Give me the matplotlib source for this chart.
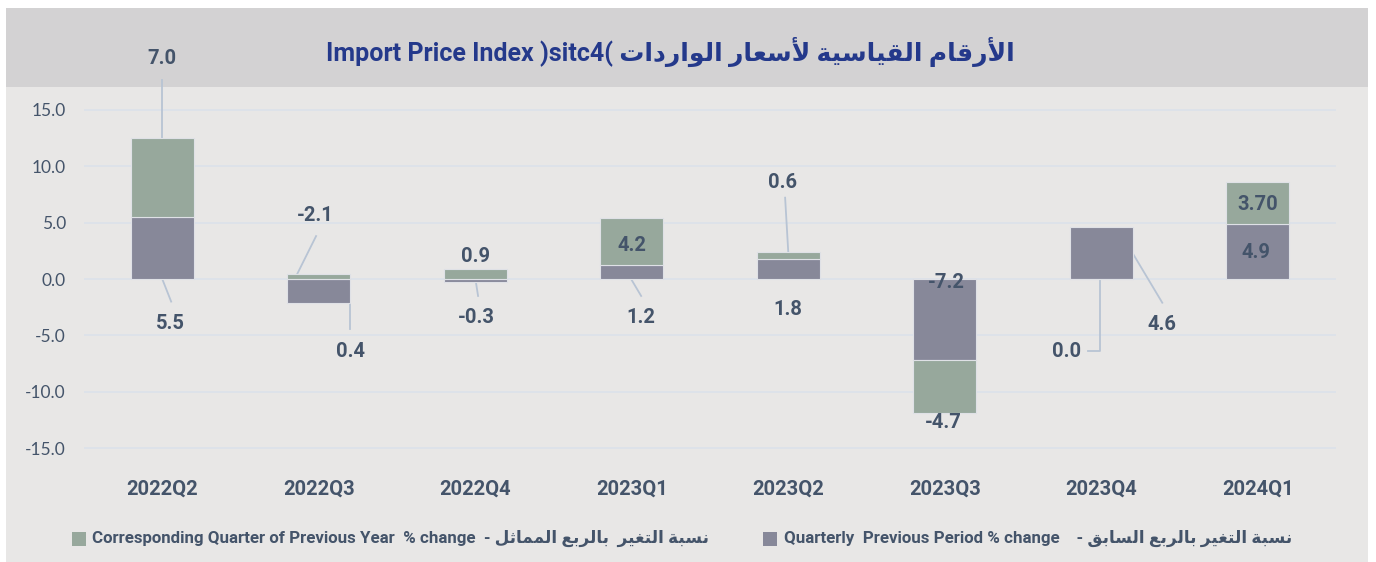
import matplotlib.pyplot as plt
from matplotlib.patches import Rectangle
import numpy as np

# data
quarters = ['2022Q2', '2022Q3', '2022Q4', '2023Q1', '2023Q2', '2023Q3', '2023Q4', '2024Q1']
quarterly = [5.5, -2.1, -0.3, 1.2, 1.8, -7.2, 4.6, 4.9]      # previous period % change
yearly = [7.0, 0.4, 0.9, 4.2, 0.6, -4.7, 0.0, 3.70]         # corresponding quarter of previous year
yearly_fmt = ['7.0', '0.4', '0.9', '4.2', '0.6', '-4.7', '0.0', '3.70']
yticks = [-15, -10, -5, 0, 5, 10, 15]

# label layout (data units), leader lines as lists of points
q_label_pos = [(0.05, -3.9), (0.977, 5.66), (2.01, -3.45), (3.06, -3.45),
               (4.0, -2.74), (5.01, -0.27), (6.386, -4.07), (6.99, 2.39)]
y_label_pos = [(0.0, 19.56), (1.2, -6.46), (2.0, 1.95), (3.0, 3.0),
               (3.966, 8.5), (4.99, -12.7), (5.78, -6.46), (7.0, 6.64)]
leaders = [
    [(0, 12.5), (0, 17.6)],
    [(0, 0), (0.057, -2.0)],
    [(0.983, 3.8), (0.805, -1.15)],
    [(1.2, 0.1), (1.2, -4.45)],
    [(2.005, -0.35), (2.018, -1.5)],
    [(3.0, -0.1), (3.06, -1.5)],
    [(3.98, 7.2), (4.0, 2.4)],
    [(6.2, 2.3), (6.39, -2.1)],
    [(5.99, -0.1), (5.99, -6.37), (5.913, -6.37)],
]

GREEN = '#97a89c'
PURPLE = '#878899'
TXT = '#44546a'
NAVY = '#24398b'
LEAD = '#b8c4d4'

# minimal arabic shaping (isolated, final, initial, medial)
AR_FORMS = {
    'ا': ('\ufe8d', '\ufe8e', None, None),
    'أ': ('\ufe83', '\ufe84', None, None),
    'ب': ('\ufe8f', '\ufe90', '\ufe91', '\ufe92'),
    'ة': ('\ufe93', '\ufe94', None, None),
    'ت': ('\ufe95', '\ufe96', '\ufe97', '\ufe98'),
    'ث': ('\ufe99', '\ufe9a', '\ufe9b', '\ufe9c'),
    'د': ('\ufea9', '\ufeaa', None, None),
    'ر': ('\ufead', '\ufeae', None, None),
    'س': ('\ufeb1', '\ufeb2', '\ufeb3', '\ufeb4'),
    'ع': ('\ufec9', '\ufeca', '\ufecb', '\ufecc'),
    'غ': ('\ufecd', '\ufece', '\ufecf', '\ufed0'),
    'ق': ('\ufed5', '\ufed6', '\ufed7', '\ufed8'),
    'ل': ('\ufedd', '\ufede', '\ufedf', '\ufee0'),
    'م': ('\ufee1', '\ufee2', '\ufee3', '\ufee4'),
    'ن': ('\ufee5', '\ufee6', '\ufee7', '\ufee8'),
    'و': ('\ufeed', '\ufeee', None, None),
    'ي': ('\ufef1', '\ufef2', '\ufef3', '\ufef4'),
    'لا': ('\ufefb', '\ufefc', None, None),
    'لأ': ('\ufef7', '\ufef8', None, None),
}


def shape_ar(text):
    toks = []
    i = 0
    while i < len(text):
        if text[i] == 'ل' and i + 1 < len(text) and text[i + 1] in 'اأ':
            toks.append(text[i:i + 2])
            i += 2
        else:
            toks.append(text[i])
            i += 1
    out = []
    for k, t in enumerate(toks):
        if t not in AR_FORMS:
            out.append(t)
            continue
        f = AR_FORMS[t]
        prev = toks[k - 1] if k > 0 else None
        nxt = toks[k + 1] if k + 1 < len(toks) else None
        jp = prev in AR_FORMS and AR_FORMS[prev][2] is not None
        jn = f[2] is not None and nxt in AR_FORMS
        if jp and jn:
            out.append(f[3])
        elif jp:
            out.append(f[1])
        elif jn:
            out.append(f[2])
        else:
            out.append(f[0])
    return ''.join(reversed(out))


FAM = ['Roboto', 'DejaVu Sans']

W, H = 1376, 562
fig = plt.figure(figsize=(W / 100, H / 100), dpi=100, facecolor='white')

# card background + title band
fig.patches.append(Rectangle((6 / W, 0), 1362 / W, (H - 8) / H, transform=fig.transFigure,
                             facecolor='#e8e7e6', edgecolor='none', zorder=-2))
fig.patches.append(Rectangle((6 / W, (H - 87) / H), 1362 / W, 79 / H, transform=fig.transFigure,
                             facecolor='#d3d2d3', edgecolor='none', zorder=-1))

title = 'Import Price Index )sitc4( ' + shape_ar('الأرقام القياسية لأسعار الواردات')
fig.text(670 / W, (H - 52) / H, title, ha='center', va='center', fontsize=18,
         fontweight='bold', color=NAVY, family=FAM)

ax = fig.add_axes([84 / W, (H - 471) / H, (1336 - 84) / W, (471 - 87) / H])
ax.set_facecolor('none')
ax.set_xlim(-0.5, 7.5)
ax.set_ylim(-17, 17)

x = np.arange(len(quarters))
q = np.array(quarterly)
yv = np.array(yearly)
bottom = np.where(np.sign(yv) == np.sign(q), q, 0)

ax.bar(x, q, width=0.4, color=PURPLE, edgecolor='#dfe1e6', linewidth=0.8, zorder=3)
ax.bar(x, yv, width=0.4, bottom=bottom, color=GREEN, edgecolor='#dfe1e6', linewidth=0.8, zorder=3)

for pts in leaders:
    xs, ys = zip(*pts)
    ax.plot(xs, ys, color=LEAD, lw=1.3, zorder=2, clip_on=False)

for (lx, ly), v in zip(q_label_pos, quarterly):
    ax.text(lx, ly, f'{v:.1f}', ha='center', va='center', fontsize=14.5, fontweight='bold',
            color=TXT, family=FAM, zorder=5, clip_on=False)
for (lx, ly), s in zip(y_label_pos, yearly_fmt):
    ax.text(lx, ly, s, ha='center', va='center', fontsize=14.5, fontweight='bold',
            color=TXT, family=FAM, zorder=5, clip_on=False)

ax.set_yticks(yticks)
ax.set_yticklabels([f'{t:.1f}' for t in yticks], fontsize=12.5, color=TXT, family='Lato')
ax.set_xticks(x)
ax.set_xticklabels(quarters, fontsize=14.5, fontweight='bold', color=TXT, family=FAM)
ax.tick_params(axis='y', length=0, pad=13)
ax.tick_params(axis='x', length=0, pad=6)
ax.grid(axis='y', color='#dde2ea', lw=1.4, zorder=0)
for s in ax.spines.values():
    s.set_visible(False)

# legend
leg = [
    (71.5, GREEN, 'Corresponding Quarter of Previous Year  % change  - ' + shape_ar('نسبة التغير  بالربع المماثل')),
    (763, PURPLE, 'Quarterly  Previous Period % change    - ' + shape_ar('نسبة التغير بالربع السابق')),
]
for lx, c, lab in leg:
    fig.patches.append(Rectangle((lx / W, (H - 546) / H), 14 / W, 14 / H, transform=fig.transFigure,
                                 facecolor=c, edgecolor='none'))
    fig.text((lx + 21) / W, (H - 538) / H, lab, ha='left', va='center', fontsize=12.2,
             fontweight='bold', color=TXT, family=FAM)

fig.savefig('out.png', dpi=100, facecolor='white')
